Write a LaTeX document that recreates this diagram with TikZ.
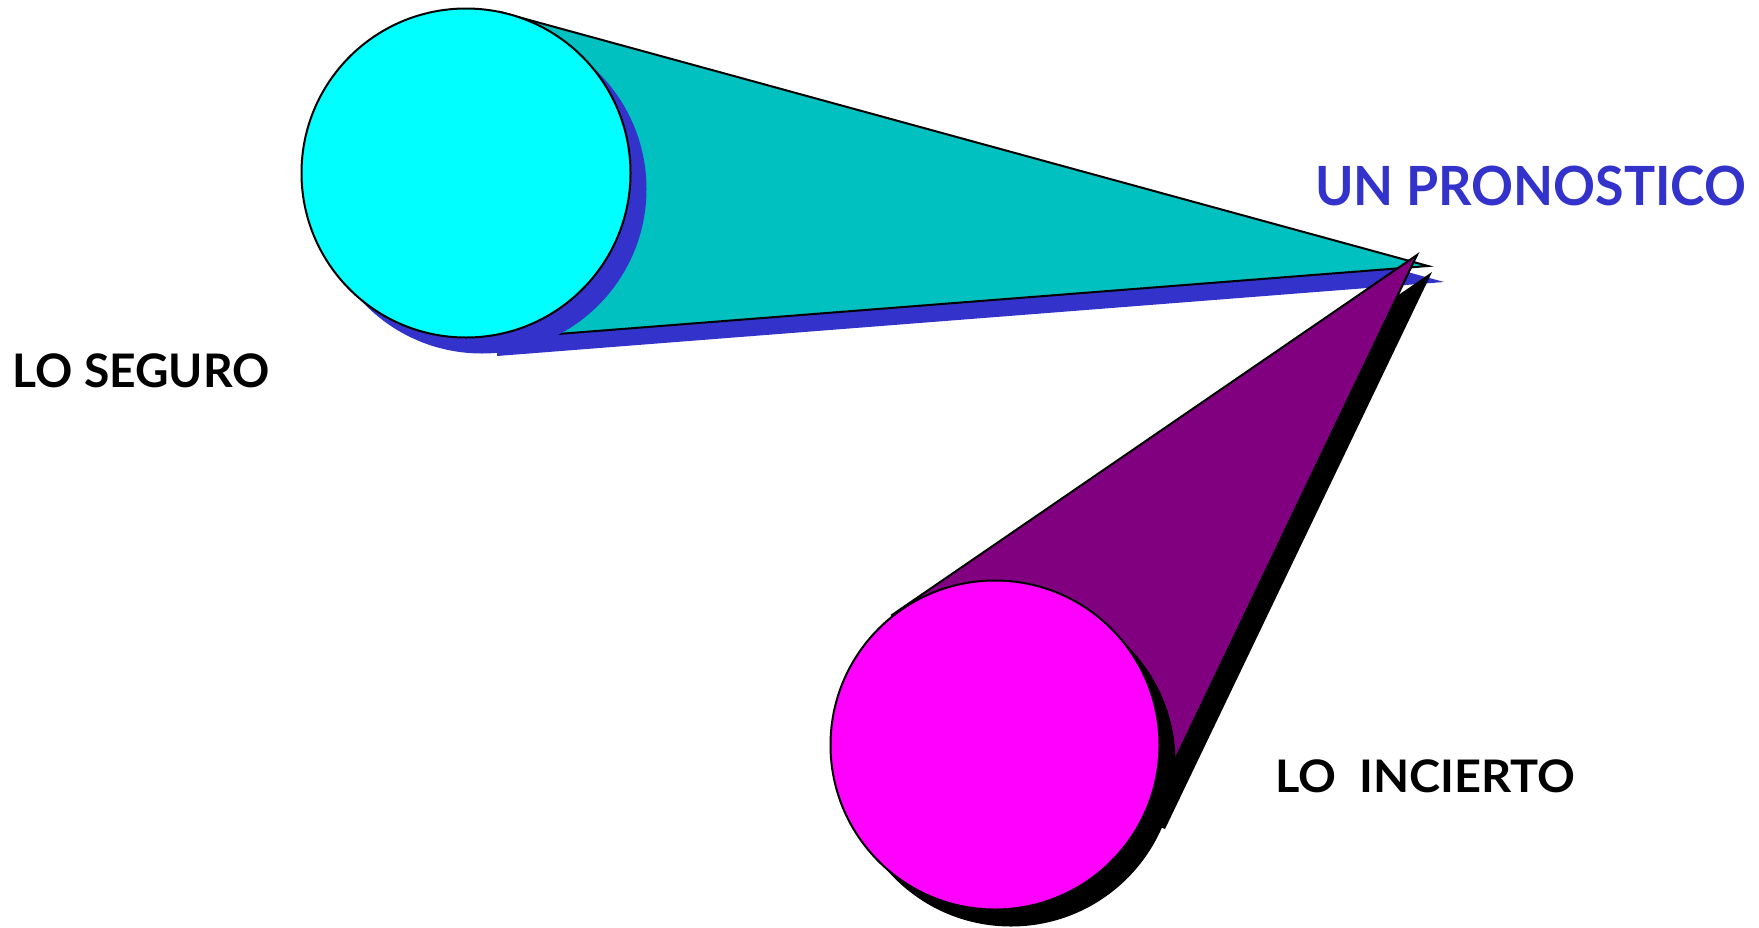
\documentclass[tikz,border=0pt]{standalone}
\usepackage{fontspec}
\usepackage{graphicx}
\setmainfont{Lato}
\definecolor{cyanA}{HTML}{00FFFF}
\definecolor{tealA}{HTML}{00C0C0}
\definecolor{blueA}{HTML}{3333CC}
\definecolor{magA}{HTML}{FF00FF}
\definecolor{purpA}{HTML}{800080}
\tikzset{
  ball/.style={circle, draw=black, line width=2pt, minimum size=329pt, inner sep=0pt},
  ballshadow/.style={circle, minimum size=329pt, inner sep=0pt},
  cone/.style={draw=black, line width=2pt, line join=miter},
  lbl/.style={anchor=base west, inner sep=0pt, font=\bfseries\fontsize{48}{54}\selectfont},
}
\begin{document}
\begin{tikzpicture}[x=1pt,y=-1pt]
\useasboundingbox (0,0) rectangle (1759,927);
% ---------- top group ----------
\coordinate (t1) at (500,12);
\coordinate (t2) at (1428,266);
\coordinate (t3) at (481,340);
\fill[blueA] ([shift={(16,16)}]t1) -- ([shift={(16,16)}]t2) -- ([shift={(16,16)}]t3) -- cycle;
\filldraw[cone, fill=tealA] (t1) -- (t2) -- (t3) -- cycle;
\node[ballshadow, fill=blueA] (sshadow) at (482,189) {};
\node[ball, fill=cyanA] (seguro) at (466,173) {};
% ---------- bottom group ----------
\coordinate (b1) at (892,615);
\coordinate (b2) at (1417,255);
\coordinate (b3) at (1150,812);
\coordinate (b4) at (995,745);
\fill[black] ([shift={(15,17)}]b1) -- ([shift={(15,17)}]b2) -- ([shift={(15,17)}]b3) -- ([shift={(15,17)}]b4) -- cycle;
\filldraw[cone, fill=purpA] (b1) -- (b2) -- (b3) -- (b4) -- cycle;
\node[ballshadow, fill=black] (ishadow) at (1011,762) {};
\node[ball, fill=magA] (incierto) at (995,745) {};
% ---------- labels ----------
\node[lbl, text=blueA] (pron) at (1315,205) {\resizebox{431pt}{39.5pt}{UN PRONOSTICO}};
\node[lbl, text=black] (lseg) at (12.5,387.3) {\resizebox{257pt}{33.8pt}{LO SEGURO}};
\node[lbl, text=black] (linc) at (1275.5,792.3) {\resizebox{300pt}{32.8pt}{LO\ \ INCIERTO}};
\end{tikzpicture}
\end{document}
